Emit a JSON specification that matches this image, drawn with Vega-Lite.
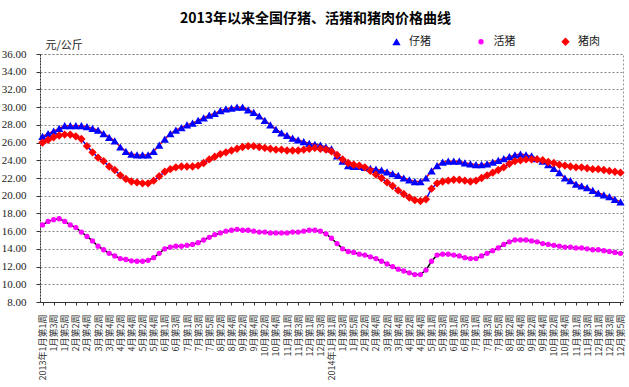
{
  "$schema": "https://vega.github.io/schema/vega-lite/v6.json",
  "autosize": {"type": "none"},
  "padding": {"left": 40, "top": 54, "right": 6, "bottom": 85},
  "width": 583,
  "height": 248,
  "background": "white",
  "title": {"text": "2013年以来全国仔猪、活猪和猪肉价格曲线", "font": "Noto Sans CJK SC", "fontSize": 14, "fontWeight": "bold", "color": "#000000", "anchor": "middle", "frame": "group", "offset": 10, "dx": -16},
  "config": {
    "font": "Noto Sans CJK SC",
    "view": {"stroke": "#999999", "strokeDash": [2, 2]}
  },
  "data": {"values": [
    {"week": "2013年1月第1周", "仔猪": 26.7, "活猪": 16.7, "猪肉": 26.0},
    {"week": "2013年1月第2周", "仔猪": 27.0, "活猪": 17.1, "猪肉": 26.3},
    {"week": "2013年1月第3周", "仔猪": 27.3, "活猪": 17.3, "猪肉": 26.6},
    {"week": "2013年1月第4周", "仔猪": 27.6, "活猪": 17.4, "猪肉": 26.8},
    {"week": "2013年1月第5周", "仔猪": 27.9, "活猪": 17.1, "猪肉": 26.9},
    {"week": "2013年2月第1周", "仔猪": 27.9, "活猪": 16.7, "猪肉": 26.9},
    {"week": "2013年2月第2周", "仔猪": 27.9, "活猪": 16.4, "猪肉": 26.7},
    {"week": "2013年2月第3周", "仔猪": 27.9, "活猪": 15.9, "猪肉": 26.4},
    {"week": "2013年2月第4周", "仔猪": 27.8, "活猪": 15.4, "猪肉": 25.6},
    {"week": "2013年3月第1周", "仔猪": 27.6, "活猪": 14.9, "猪肉": 24.9},
    {"week": "2013年3月第2周", "仔猪": 27.4, "活猪": 14.3, "猪肉": 24.3},
    {"week": "2013年3月第3周", "仔猪": 27.0, "活猪": 13.9, "猪肉": 23.9},
    {"week": "2013年3月第4周", "仔猪": 26.6, "活猪": 13.5, "猪肉": 23.3},
    {"week": "2013年4月第1周", "仔猪": 26.2, "活猪": 13.2, "猪肉": 22.9},
    {"week": "2013年4月第2周", "仔猪": 25.5, "活猪": 12.9, "猪肉": 22.3},
    {"week": "2013年4月第3周", "仔猪": 25.0, "活猪": 12.8, "猪肉": 21.9},
    {"week": "2013年4月第4周", "仔猪": 24.7, "活猪": 12.65, "猪肉": 21.6},
    {"week": "2013年5月第1周", "仔猪": 24.6, "活猪": 12.6, "猪肉": 21.5},
    {"week": "2013年5月第2周", "仔猪": 24.6, "活猪": 12.6, "猪肉": 21.4},
    {"week": "2013年5月第3周", "仔猪": 24.6, "活猪": 12.7, "猪肉": 21.4},
    {"week": "2013年5月第4周", "仔猪": 25.0, "活猪": 13.0, "猪肉": 21.7},
    {"week": "2013年5月第5周", "仔猪": 25.7, "活猪": 13.5, "猪肉": 22.2},
    {"week": "2013年6月第1周", "仔猪": 26.4, "活猪": 14.0, "猪肉": 22.7},
    {"week": "2013年6月第2周", "仔猪": 27.0, "活猪": 14.2, "猪肉": 23.0},
    {"week": "2013年6月第3周", "仔猪": 27.4, "活猪": 14.3, "猪肉": 23.2},
    {"week": "2013年6月第4周", "仔猪": 27.7, "活猪": 14.3, "猪肉": 23.3},
    {"week": "2013年7月第1周", "仔猪": 28.0, "活猪": 14.4, "猪肉": 23.3},
    {"week": "2013年7月第2周", "仔猪": 28.2, "活猪": 14.5, "猪肉": 23.3},
    {"week": "2013年7月第3周", "仔猪": 28.5, "活猪": 14.7, "猪肉": 23.4},
    {"week": "2013年7月第4周", "仔猪": 28.8, "活猪": 15.0, "猪肉": 23.7},
    {"week": "2013年7月第5周", "仔猪": 29.1, "活猪": 15.3, "猪肉": 24.1},
    {"week": "2013年8月第1周", "仔猪": 29.3, "活猪": 15.6, "猪肉": 24.4},
    {"week": "2013年8月第2周", "仔猪": 29.6, "活猪": 15.8, "猪肉": 24.7},
    {"week": "2013年8月第3周", "仔猪": 29.8, "活猪": 16.0, "猪肉": 24.9},
    {"week": "2013年8月第4周", "仔猪": 29.9, "活猪": 16.1, "猪肉": 25.1},
    {"week": "2013年9月第1周", "仔猪": 30.0, "活猪": 16.2, "猪肉": 25.3},
    {"week": "2013年9月第2周", "仔猪": 30.0, "活猪": 16.1, "猪肉": 25.5},
    {"week": "2013年9月第3周", "仔猪": 29.7, "活猪": 16.1, "猪肉": 25.6},
    {"week": "2013年9月第4周", "仔猪": 29.4, "活猪": 16.0, "猪肉": 25.6},
    {"week": "2013年10月第1周", "仔猪": 29.0, "活猪": 15.9, "猪肉": 25.5},
    {"week": "2013年10月第2周", "仔猪": 28.5, "活猪": 15.9, "猪肉": 25.4},
    {"week": "2013年10月第3周", "仔猪": 28.0, "活猪": 15.8, "猪肉": 25.3},
    {"week": "2013年10月第4周", "仔猪": 27.5, "活猪": 15.8, "猪肉": 25.2},
    {"week": "2013年10月第5周", "仔猪": 27.1, "活猪": 15.8, "猪肉": 25.2},
    {"week": "2013年11月第1周", "仔猪": 26.8, "活猪": 15.8, "猪肉": 25.1},
    {"week": "2013年11月第2周", "仔猪": 26.5, "活猪": 15.9, "猪肉": 25.1},
    {"week": "2013年11月第3周", "仔猪": 26.3, "活猪": 15.9, "猪肉": 25.1},
    {"week": "2013年11月第4周", "仔猪": 26.1, "活猪": 16.0, "猪肉": 25.2},
    {"week": "2013年12月第1周", "仔猪": 25.9, "活猪": 16.1, "猪肉": 25.3},
    {"week": "2013年12月第2周", "仔猪": 25.8, "活猪": 16.1, "猪肉": 25.4},
    {"week": "2013年12月第3周", "仔猪": 25.7, "活猪": 16.0, "猪肉": 25.3},
    {"week": "2013年12月第4周", "仔猪": 25.5, "活猪": 15.7, "猪肉": 25.2},
    {"week": "2014年1月第1周", "仔猪": 25.3, "活猪": 15.2, "猪肉": 25.0},
    {"week": "2014年1月第2周", "仔猪": 24.5, "活猪": 14.6, "猪肉": 24.6},
    {"week": "2014年1月第3周", "仔猪": 23.9, "活猪": 14.0, "猪肉": 24.1},
    {"week": "2014年1月第4周", "仔猪": 23.4, "活猪": 13.7, "猪肉": 23.7},
    {"week": "2014年1月第5周", "仔猪": 23.3, "活猪": 13.6, "猪肉": 23.5},
    {"week": "2014年2月第1周", "仔猪": 23.3, "活猪": 13.4, "猪肉": 23.4},
    {"week": "2014年2月第2周", "仔猪": 23.2, "活猪": 13.3, "猪肉": 23.2},
    {"week": "2014年2月第3周", "仔猪": 23.1, "活猪": 13.1, "猪肉": 22.8},
    {"week": "2014年2月第4周", "仔猪": 23.0, "活猪": 12.9, "猪肉": 22.4},
    {"week": "2014年3月第1周", "仔猪": 22.9, "活猪": 12.6, "猪肉": 22.0},
    {"week": "2014年3月第2周", "仔猪": 22.7, "活猪": 12.3, "猪肉": 21.5},
    {"week": "2014年3月第3周", "仔猪": 22.5, "活猪": 12.0, "猪肉": 21.1},
    {"week": "2014年3月第4周", "仔猪": 22.3, "活猪": 11.7, "猪肉": 20.6},
    {"week": "2014年4月第1周", "仔猪": 22.0, "活猪": 11.5, "猪肉": 20.2},
    {"week": "2014年4月第2周", "仔猪": 21.8, "活猪": 11.3, "猪肉": 19.8},
    {"week": "2014年4月第3周", "仔猪": 21.6, "活猪": 11.1, "猪肉": 19.5},
    {"week": "2014年4月第4周", "仔猪": 21.6, "活猪": 11.1, "猪肉": 19.4},
    {"week": "2014年4月第5周", "仔猪": 22.0, "活猪": 11.6, "猪肉": 19.6},
    {"week": "2014年5月第1周", "仔猪": 22.8, "活猪": 12.6, "猪肉": 20.8},
    {"week": "2014年5月第2周", "仔猪": 23.4, "活猪": 13.3, "猪肉": 21.4},
    {"week": "2014年5月第3周", "仔猪": 23.8, "活猪": 13.4, "猪肉": 21.6},
    {"week": "2014年5月第4周", "仔猪": 23.9, "活猪": 13.4, "猪肉": 21.7},
    {"week": "2014年6月第1周", "仔猪": 23.9, "活猪": 13.3, "猪肉": 21.8},
    {"week": "2014年6月第2周", "仔猪": 23.9, "活猪": 13.2, "猪肉": 21.8},
    {"week": "2014年6月第3周", "仔猪": 23.7, "活猪": 13.0, "猪肉": 21.7},
    {"week": "2014年6月第4周", "仔猪": 23.6, "活猪": 12.9, "猪肉": 21.6},
    {"week": "2014年7月第1周", "仔猪": 23.5, "活猪": 12.9, "猪肉": 21.7},
    {"week": "2014年7月第2周", "仔猪": 23.5, "活猪": 13.2, "猪肉": 22.0},
    {"week": "2014年7月第3周", "仔猪": 23.6, "活猪": 13.5, "猪肉": 22.3},
    {"week": "2014年7月第4周", "仔猪": 23.8, "活猪": 13.8, "猪肉": 22.6},
    {"week": "2014年7月第5周", "仔猪": 24.0, "活猪": 14.1, "猪肉": 22.9},
    {"week": "2014年8月第1周", "仔猪": 24.2, "活猪": 14.5, "猪肉": 23.2},
    {"week": "2014年8月第2周", "仔猪": 24.4, "活猪": 14.8, "猪肉": 23.6},
    {"week": "2014年8月第3周", "仔猪": 24.6, "活猪": 15.0, "猪肉": 23.9},
    {"week": "2014年8月第4周", "仔猪": 24.7, "活猪": 15.0, "猪肉": 24.0},
    {"week": "2014年9月第1周", "仔猪": 24.6, "活猪": 15.0, "猪肉": 24.1},
    {"week": "2014年9月第2周", "仔猪": 24.5, "活猪": 14.9, "猪肉": 24.1},
    {"week": "2014年9月第3周", "仔猪": 24.2, "活猪": 14.8, "猪肉": 24.1},
    {"week": "2014年9月第4周", "仔猪": 23.9, "活猪": 14.6, "猪肉": 24.0},
    {"week": "2014年10月第1周", "仔猪": 23.5, "活猪": 14.5, "猪肉": 23.8},
    {"week": "2014年10月第2周", "仔猪": 23.1, "活猪": 14.4, "猪肉": 23.7},
    {"week": "2014年10月第3周", "仔猪": 22.6, "活猪": 14.3, "猪肉": 23.5},
    {"week": "2014年10月第4周", "仔猪": 22.0, "活猪": 14.2, "猪肉": 23.4},
    {"week": "2014年10月第5周", "仔猪": 21.7, "活猪": 14.2, "猪肉": 23.3},
    {"week": "2014年11月第1周", "仔猪": 21.3, "活猪": 14.1, "猪肉": 23.2},
    {"week": "2014年11月第2周", "仔猪": 21.1, "活猪": 14.1, "猪肉": 23.2},
    {"week": "2014年11月第3周", "仔猪": 20.9, "活猪": 14.0, "猪肉": 23.1},
    {"week": "2014年11月第4周", "仔猪": 20.6, "活猪": 13.9, "猪肉": 23.0},
    {"week": "2014年12月第1周", "仔猪": 20.3, "活猪": 13.9, "猪肉": 23.0},
    {"week": "2014年12月第2周", "仔猪": 20.1, "活猪": 13.8, "猪肉": 22.9},
    {"week": "2014年12月第3周", "仔猪": 19.9, "活猪": 13.7, "猪肉": 22.8},
    {"week": "2014年12月第4周", "仔猪": 19.6, "活猪": 13.6, "猪肉": 22.7},
    {"week": "2014年12月第5周", "仔猪": 19.3, "活猪": 13.5, "猪肉": 22.6}
  ]},
  "transform": [{"fold": ["仔猪", "活猪", "猪肉"], "as": ["series", "price"]}],
  "encoding": {
    "x": {
      "field": "week", "type": "ordinal", "sort": null,
      "scale": {"type": "point", "padding": 0.45},
      "axis": {
        "title": null,
        "values": ["2013年1月第1周","2013年1月第3周","2013年1月第5周","2013年2月第2周","2013年2月第4周","2013年3月第2周","2013年3月第4周","2013年4月第2周","2013年4月第4周","2013年5月第2周","2013年5月第4周","2013年6月第1周","2013年6月第3周","2013年7月第1周","2013年7月第3周","2013年7月第5周","2013年8月第2周","2013年8月第4周","2013年9月第2周","2013年9月第4周","2013年10月第2周","2013年10月第4周","2013年11月第1周","2013年11月第3周","2013年12月第1周","2013年12月第3周","2014年1月第1周","2014年1月第3周","2014年1月第5周","2014年2月第2周","2014年2月第4周","2014年3月第2周","2014年3月第4周","2014年4月第2周","2014年4月第4周","2014年5月第1周","2014年5月第3周","2014年6月第1周","2014年6月第3周","2014年7月第1周","2014年7月第3周","2014年7月第5周","2014年8月第2周","2014年8月第4周","2014年9月第2周","2014年9月第4周","2014年10月第2周","2014年10月第4周","2014年11月第1周","2014年11月第3周","2014年12月第1周","2014年12月第3周","2014年12月第5周"],
        "labelExpr": "indexof(datum.value, '年1月第1周') > 0 ? datum.value : slice(datum.value, 5)",
        "labelAngle": 270,
        "labelFont": "Noto Sans CJK SC",
        "labelFontSize": 9,
        "labelColor": "#333333",
        "labelPadding": 9,
        "labelOverlap": false,
        "tickSize": 3,
        "tickColor": "#333333",
        "domainColor": "#333333",
        "grid": false
      }
    },
    "y": {
      "field": "price", "type": "quantitative",
      "scale": {"domain": [8, 36], "nice": false, "zero": false},
      "axis": {
        "title": "元/公斤",
        "titleAngle": 0,
        "titleAlign": "left",
        "titleBaseline": "alphabetic",
        "titleX": 5,
        "titleY": -6,
        "titleFont": "Noto Sans CJK SC",
        "titleFontSize": 11,
        "titleFontWeight": "normal",
        "titleColor": "#222222",
        "values": [8, 10, 12, 14, 16, 18, 20, 22, 24, 26, 28, 30, 32, 34, 36],
        "format": ".2f",
        "labelFont": "Liberation Serif",
        "labelFontSize": 11,
        "labelColor": "#222222",
        "labelPadding": 10,
        "tickSize": 4,
        "tickColor": "#333333",
        "domainColor": "#333333",
        "domainDash": [2, 1],
        "grid": true,
        "gridDash": [2, 2],
        "gridColor": "#888888"
      }
    }
  },
  "layer": [
    {
      "mark": {"type": "line", "strokeWidth": 1.5},
      "encoding": {
        "color": {
          "field": "series", "type": "nominal",
          "scale": {"domain": ["仔猪", "活猪", "猪肉"], "range": ["#FF0000", "#000000", "#0000FF"]},
          "legend": null
        }
      }
    },
    {
      "mark": {"type": "point", "filled": true, "opacity": 1, "strokeWidth": 0},
      "encoding": {
        "color": {
          "field": "series", "type": "nominal",
          "scale": {"domain": ["仔猪", "活猪", "猪肉"], "range": ["#0000FF", "#FF00FF", "#FF0000"]},
          "legend": {
            "title": null, "orient": "none", "legendX": 351, "legendY": -18, "direction": "horizontal",
            "labelOffset": 7, "columnPadding": 44.5,
            "labelFont": "Noto Sans CJK SC", "labelFontSize": 11, "labelColor": "#222222"
          }
        },
        "shape": {
          "field": "series", "type": "nominal",
          "scale": {"domain": ["仔猪", "活猪", "猪肉"], "range": ["triangle-up", "circle", "diamond"]},
          "legend": {
            "title": null, "orient": "none", "legendX": 351, "legendY": -18, "direction": "horizontal",
            "labelOffset": 7, "columnPadding": 44.5,
            "labelFont": "Noto Sans CJK SC", "labelFontSize": 11, "labelColor": "#222222"
          }
        },
        "size": {
          "field": "series", "type": "nominal",
          "scale": {"type": "ordinal", "domain": ["仔猪", "活猪", "猪肉"], "range": [70, 28, 70]},
          "legend": {
            "title": null, "orient": "none", "legendX": 351, "legendY": -18, "direction": "horizontal",
            "labelOffset": 7, "columnPadding": 44.5,
            "labelFont": "Noto Sans CJK SC", "labelFontSize": 11, "labelColor": "#222222"
          }
        }
      }
    }
  ],
  "resolve": {
    "scale": {"color": "independent", "shape": "independent", "size": "independent"},
    "legend": {"color": "independent", "shape": "independent", "size": "independent"}
  }
}
